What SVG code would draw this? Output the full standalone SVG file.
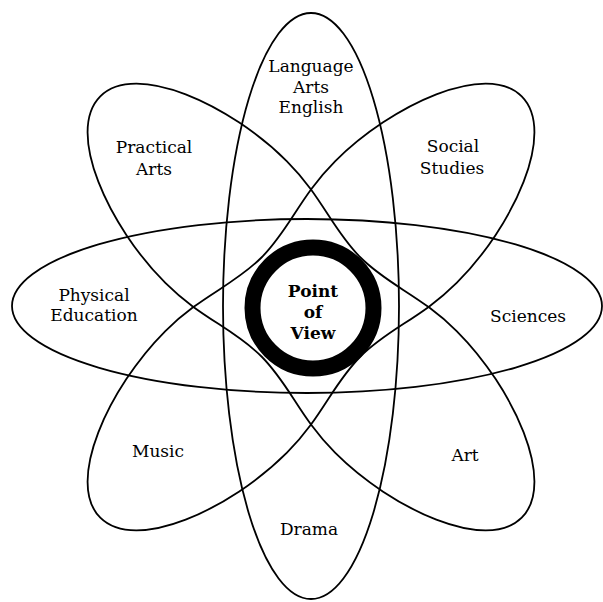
<svg xmlns="http://www.w3.org/2000/svg" width="603" height="602" viewBox="0 0 603 602">
  <defs>
    <!-- diagonal petal, drawn along its own long axis -->
    <path id="petal" d="M -298 0 C -298 -50 -200 -86 -120 -86 C -70 -86 -40 -70 0 -70 C 40 -70 70 -86 120 -86 C 200 -86 298 -50 298 0 C 298 50 200 86 120 86 C 70 86 40 70 0 70 C -40 70 -70 86 -120 86 C -200 86 -298 50 -298 0 Z"/>
  </defs>
  <style>
    .loop { fill: none; stroke: #000; stroke-width: 1.8; }
    .lbl { font-family: "DejaVu Serif", "Liberation Serif", serif; font-size: 17px; fill: #000; text-anchor: middle; }
    .hub { font-family: "DejaVu Serif", "Liberation Serif", serif; font-size: 17px; font-weight: bold; fill: #000; text-anchor: middle; }
  </style>
  <rect width="603" height="602" fill="#fff"/>

  <!-- the four overlapping loops -->
  <g id="connectors">
    <ellipse class="loop" cx="311" cy="306" rx="88" ry="293"/>
    <ellipse class="loop" cx="307" cy="306" rx="295" ry="87"/>
    <use class="loop" href="#petal" transform="translate(311 307) rotate(45)"/>
    <use class="loop" href="#petal" transform="translate(311 307) rotate(-45)"/>
  </g>

  <g id="language-arts">
    <text class="lbl" x="311" y="72">Language</text>
    <text class="lbl" x="311" y="93">Arts</text>
    <text class="lbl" x="311" y="113">English</text>
  </g>
  <g id="practical-arts">
    <text class="lbl" x="154" y="153">Practical</text>
    <text class="lbl" x="154" y="175">Arts</text>
  </g>
  <g id="social-studies">
    <text class="lbl" x="453" y="152">Social</text>
    <text class="lbl" x="452" y="174">Studies</text>
  </g>
  <g id="physical-education">
    <text class="lbl" x="94" y="301">Physical</text>
    <text class="lbl" x="94" y="321">Education</text>
  </g>
  <g id="sciences">
    <text class="lbl" x="528" y="322">Sciences</text>
  </g>
  <g id="music">
    <text class="lbl" x="158" y="457">Music</text>
  </g>
  <g id="art">
    <text class="lbl" x="465" y="461">Art</text>
  </g>
  <g id="drama">
    <text class="lbl" x="309" y="535">Drama</text>
  </g>

  <g id="point-of-view">
    <circle cx="313" cy="308" r="60.5" fill="#fff" stroke="#000" stroke-width="16"/>
    <text class="hub" x="313" y="297">Point</text>
    <text class="hub" x="313" y="318">of</text>
    <text class="hub" x="313" y="339">View</text>
  </g>
</svg>
